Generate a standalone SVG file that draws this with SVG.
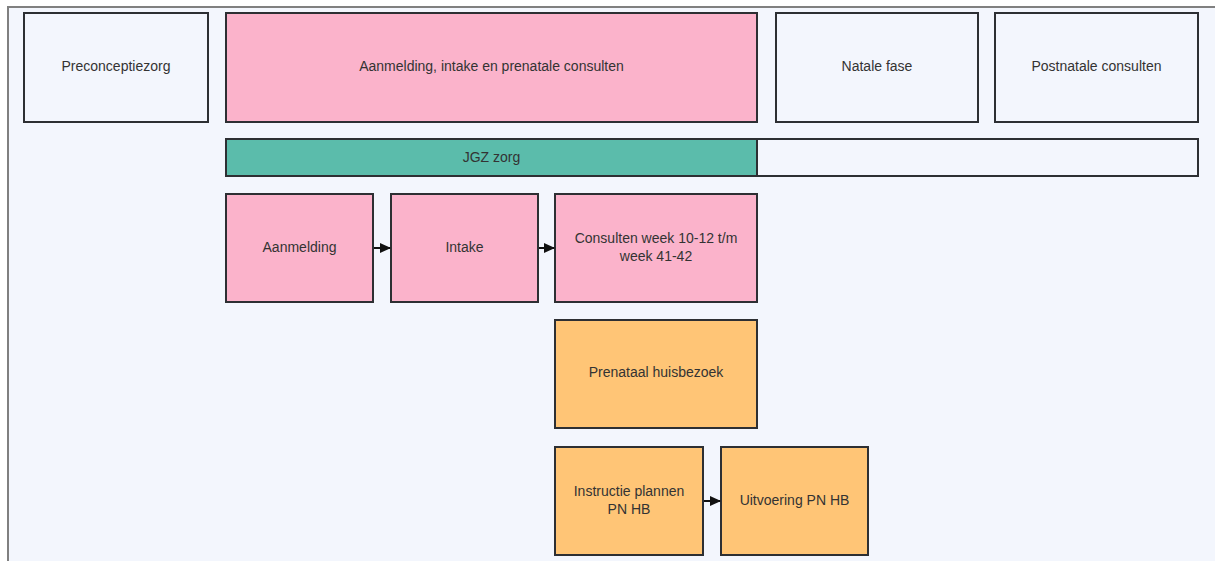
<svg xmlns="http://www.w3.org/2000/svg" width="1215" height="561" viewBox="0 0 1215 561">
<style>
.n{stroke:#2d2f33;stroke-width:2}
.w{fill:#f3f6fd}
.p{fill:#fbb3cb}
.g{fill:#5bbcab}
.o{fill:#ffc576}
text{font-family:"Liberation Sans",Arial,sans-serif;font-size:14px;fill:#333;text-anchor:middle;dominant-baseline:middle}
.c{stroke:#111;stroke-width:2;fill:none;marker-end:url(#ah)}
</style>
<defs>
<marker id="ah" markerWidth="11" markerHeight="10" refX="10" refY="5" orient="auto" markerUnits="userSpaceOnUse">
<path d="M0,0 L11,5 L0,10 Z" fill="#111"/>
</marker>
</defs>
<rect x="0" y="0" width="1215" height="561" fill="#ffffff"/>
<rect x="8" y="7" width="1215" height="560" fill="#f3f6fd" stroke="#808080" stroke-width="2"/>
<g id="preconceptiezorg"><rect class="n w" x="24" y="13" width="184" height="109"/><text x="116" y="67">Preconceptiezorg</text></g>
<g id="aanmelding-fase"><rect class="n p" x="226" y="13" width="531" height="109"/><text x="491.5" y="67">Aanmelding, intake en prenatale consulten</text></g>
<g id="natale-fase"><rect class="n w" x="776" y="13" width="202" height="109"/><text x="877" y="67">Natale fase</text></g>
<g id="postnatale"><rect class="n w" x="995" y="13" width="203" height="109"/><text x="1096.5" y="67">Postnatale consulten</text></g>
<g id="jgz-rest"><rect class="n w" x="757" y="139" width="441" height="37"/></g>
<g id="jgz"><rect class="n g" x="226" y="139" width="531" height="37"/><text x="491.5" y="158">JGZ zorg</text></g>
<g id="aanmelding"><rect class="n p" x="226" y="194" width="147" height="108"/><text x="299.5" y="248">Aanmelding</text></g>
<g id="intake"><rect class="n p" x="391" y="194" width="147" height="108"/><text x="464.5" y="248">Intake</text></g>
<g id="consulten"><rect class="n p" x="555" y="194" width="202" height="108"/><text x="656" y="239">Consulten week 10-12 t/m</text><text x="656" y="257">week 41-42</text></g>
<g id="prenataal"><rect class="n o" x="555" y="320" width="202" height="108"/><text x="656" y="373">Prenataal huisbezoek</text></g>
<g id="instructie"><rect class="n o" x="555" y="447" width="148" height="108"/><text x="629" y="492">Instructie plannen</text><text x="629" y="510">PN HB</text></g>
<g id="uitvoering"><rect class="n o" x="721" y="447" width="147" height="108"/><text x="794.5" y="501">Uitvoering PN HB</text></g>
<g id="connectors">
<line class="c" x1="374" y1="248" x2="390" y2="248"/>
<line class="c" x1="539" y1="248" x2="554" y2="248"/>
<line class="c" x1="704" y1="501" x2="720" y2="501"/>
</g>
</svg>
